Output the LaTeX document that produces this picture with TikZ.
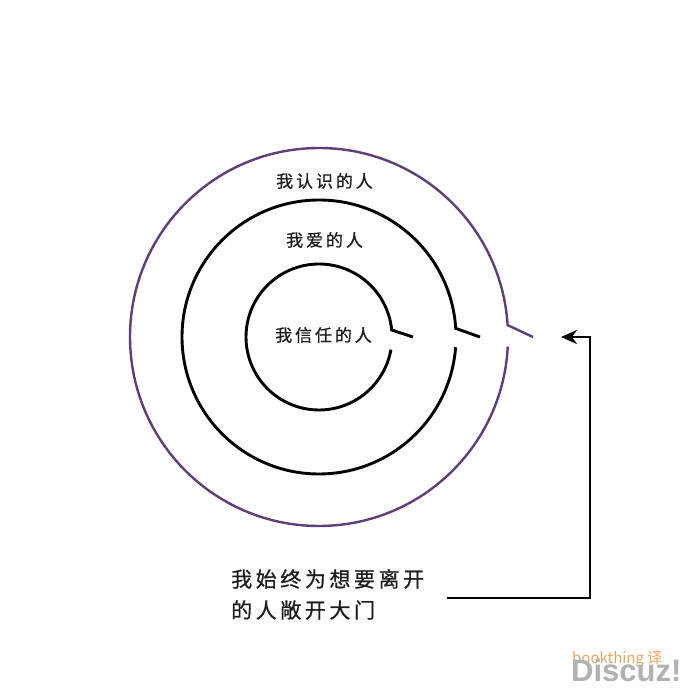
\documentclass[tikz,border=0pt]{standalone}
\usepackage{fontspec}
\usetikzlibrary{arrows.meta}
\newfontfamily\cjk[LetterSpace=17,FakeBold=0.7]{Noto Sans CJK SC}
\newfontfamily\cjkplain{Noto Sans CJK SC}
\newfontfamily\wmfont{Liberation Sans}
\definecolor{ringpurple}{RGB}{95,62,122}
\definecolor{inktext}{RGB}{30,30,30}
\definecolor{wmorange}{RGB}{236,165,100}
\begin{document}
\begin{tikzpicture}[x=1pt,y=1pt,
  blackring/.style={draw=black,line width=2.9pt,line join=miter},
  purplering/.style={draw=ringpurple,line width=2.4pt,line join=miter},
  lbl/.style={inner sep=0pt,anchor=west,text=inktext,font=\cjk\fontsize{17}{20}\selectfont},
  biglbl/.style={inner sep=0pt,anchor=west,text=inktext,font=\cjk\fontsize{21}{25}\selectfont},
  pointer/.style={draw=black,line width=2pt,-{Stealth[length=16pt,width=14pt,inset=5pt]}}]
\useasboundingbox (0,0) rectangle (690,690);
\fill[white] (0,0) rectangle (690,690);
\coordinate (C) at (319,353);
% inner ring
\path (C) ++(5.5:73) coordinate (innerTop);
\coordinate (innerDoor) at (413,353);
\draw[blackring] (innerDoor) -- (innerTop) arc[start angle=5.5,end angle=350,radius=73];
% middle ring
\path (C) ++(3.6:137) coordinate (midTop);
\coordinate (midDoor) at (480,353);
\draw[blackring] (midDoor) -- (midTop) arc[start angle=3.6,end angle=355.7,radius=137];
% outer ring
\path (C) ++(3.6:189) coordinate (outTop);
\coordinate (outDoor) at (533,353);
\draw[purplering] (outDoor) -- (outTop) arc[start angle=3.6,end angle=357.1,radius=189];
% labels
\node[lbl] (knowLbl) at (276,509) {我认识的人};
\node[lbl] (loveLbl) at (286,450) {我爱的人};
\node[lbl] (trustLbl) at (275,355) {我信任的人};
\node[biglbl] (noteA) at (231,111) {我始终为想要离开};
\node[biglbl] (noteB) at (231,80) {的人敞开大门};
% arrow
\coordinate (tail) at (447,92);
\coordinate (gap) at (561,353);
\draw[pointer] (tail) -- (590,92) |- (gap);
% watermark
\node[inner sep=0pt,anchor=west,text=wmorange,font=\cjkplain\fontsize{15}{17}\selectfont] (wmA) at (572,31) {bookthing 译};
\node[inner sep=0pt,anchor=west,text=gray!60,font=\wmfont\bfseries\fontsize{31}{34}\selectfont] (wmB) at (571,20) {Discuz!};
\end{tikzpicture}
\end{document}
